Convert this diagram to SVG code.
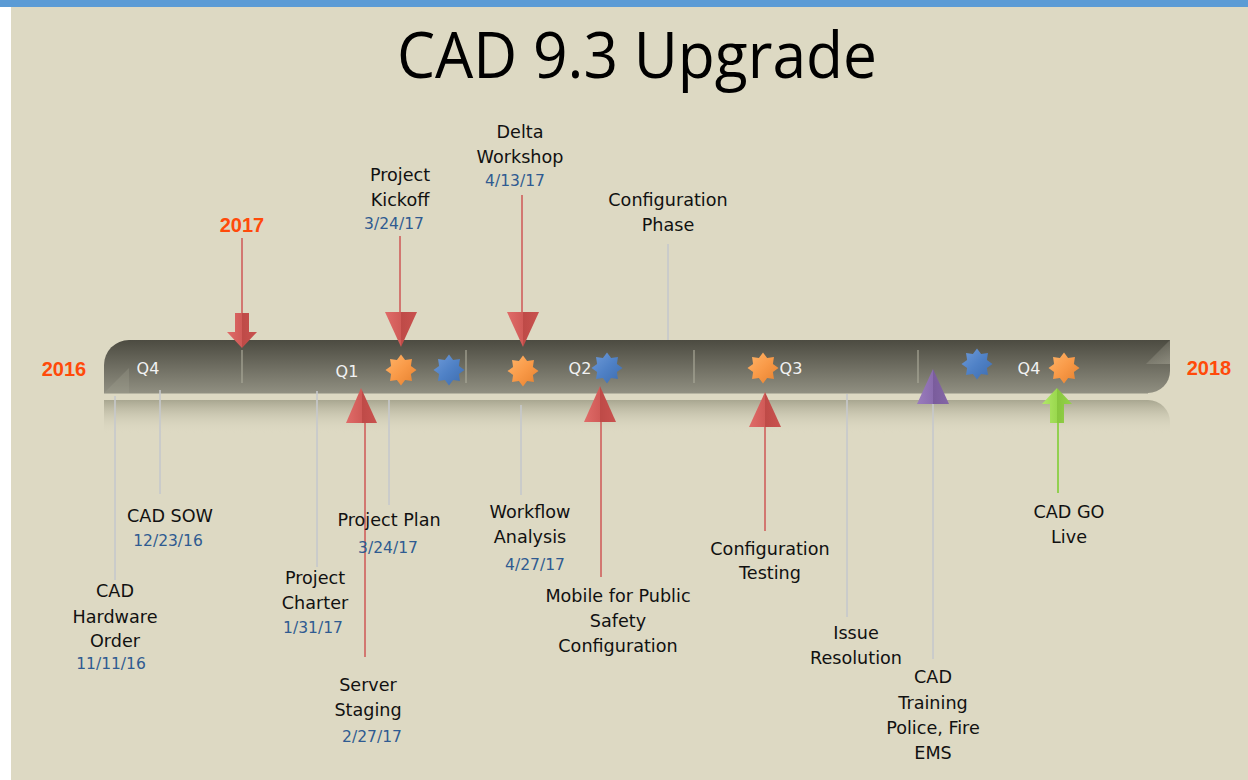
<svg xmlns="http://www.w3.org/2000/svg" width="1248" height="780" viewBox="0 0 1248 780">
<defs>
<style>
.lbl{font-family:"DejaVu Sans","Liberation Sans",sans-serif;font-size:17.6px;fill:#111;text-anchor:middle}
.dt{font-family:"DejaVu Sans","Liberation Sans",sans-serif;font-size:15.5px;fill:#2F5B91;text-anchor:middle}
.yr{font-family:"Liberation Sans",Arial,sans-serif;font-weight:bold;font-size:20px;fill:#FF4A0A;text-anchor:middle}
.q{font-family:"DejaVu Sans","Liberation Sans",sans-serif;font-size:16px;fill:#F2F2F2;text-anchor:middle}
.gl{stroke:#C6C8CC;stroke-width:1.6;fill:none}
.rl{stroke:#D05F5C;stroke-width:1.6;fill:none}
.sep{stroke:#A9A898;stroke-width:1.2}
</style>
<linearGradient id="barG" x1="0" y1="0" x2="0" y2="1">
<stop offset="0" stop-color="#4C4B41"/>
<stop offset="1" stop-color="#908F81"/>
</linearGradient>
<linearGradient id="refG" x1="0" y1="0" x2="0" y2="1">
<stop offset="0" stop-color="#A8A690"/>
<stop offset="1" stop-color="#DDD9C3" stop-opacity="0"/>
</linearGradient>
<linearGradient id="cornG" x1="0" y1="0" x2="1" y2="1">
<stop offset="0" stop-color="#C9C7B6" stop-opacity="0.05"/>
<stop offset="1" stop-color="#C9C7B6" stop-opacity="0.35"/>
</linearGradient>
<linearGradient id="redG" x1="0" y1="0" x2="1" y2="0">
<stop offset="0" stop-color="#E06C69"/>
<stop offset="0.5" stop-color="#D05A57"/>
<stop offset="0.5" stop-color="#BE4A47"/>
<stop offset="1" stop-color="#C9524F"/>
</linearGradient>
<linearGradient id="purG" x1="0" y1="0" x2="1" y2="0">
<stop offset="0" stop-color="#9A7CBC"/>
<stop offset="0.5" stop-color="#8A6CAE"/>
<stop offset="0.5" stop-color="#7A5C9C"/>
<stop offset="1" stop-color="#8466A6"/>
</linearGradient>
<linearGradient id="grnG" x1="0" y1="0" x2="1" y2="0">
<stop offset="0" stop-color="#B2E86A"/>
<stop offset="0.5" stop-color="#9AD84E"/>
<stop offset="0.5" stop-color="#88C63E"/>
<stop offset="1" stop-color="#94D24A"/>
</linearGradient>
<linearGradient id="orG" x1="0" y1="0" x2="1" y2="1">
<stop offset="0" stop-color="#FFB56A"/>
<stop offset="0.5" stop-color="#F99A48"/>
<stop offset="1" stop-color="#E5802E"/>
</linearGradient>
<linearGradient id="blG" x1="0" y1="0" x2="1" y2="1">
<stop offset="0" stop-color="#6F9BD8"/>
<stop offset="0.5" stop-color="#4F81C6"/>
<stop offset="1" stop-color="#3D6CAE"/>
</linearGradient>
<path id="star" d="M0,-15.5 L4.1,-9.9 L10.96,-10.96 L9.9,-4.1 L15.5,0 L9.9,4.1 L10.96,10.96 L4.1,9.9 L0,15.5 L-4.1,9.9 L-10.96,10.96 L-9.9,4.1 L-15.5,0 L-9.9,-4.1 L-10.96,-10.96 L-4.1,-9.9 Z"/>
</defs>

<rect x="0" y="0" width="1248" height="780" fill="#FFFFFF"/>
<rect x="11" y="0" width="1237" height="780" fill="#DDD9C3"/>
<rect x="0" y="0" width="1248" height="7" fill="#5B9BD5"/>

<text x="397" y="78" font-family="'Open Sans','Liberation Sans',sans-serif" font-size="64" fill="#000" textLength="480" lengthAdjust="spacingAndGlyphs">CAD 9.3 Upgrade</text>

<g id="timeline-bar">
<path d="M104,400 H1148 A22,22 0 0 1 1170,422 V434 H104 Z" fill="url(#refG)"/>
<path d="M104,393 V365 A25,25 0 0 1 129,340 H1170 V371 A22,22 0 0 1 1148,393 Z" fill="url(#barG)"/>
<path d="M104,393 L129,368 V393 Z" fill="#A3A293" opacity="0.3"/>
<path d="M1170,340 L1146,364 H1170 Z" fill="url(#cornG)"/>
<line x1="104" y1="393.5" x2="1148" y2="393.5" stroke="#B6B4A2" stroke-width="1"/>
<line class="sep" x1="242" y1="350" x2="242" y2="383"/>
<line class="sep" x1="466" y1="350" x2="466" y2="383"/>
<line class="sep" x1="694" y1="350" x2="694" y2="383"/>
<line class="sep" x1="918" y1="350" x2="918" y2="383"/>
<text class="q" x="148" y="374">Q4</text>
<text class="q" x="347" y="377">Q1</text>
<text class="q" x="580" y="374">Q2</text>
<text class="q" x="791" y="374">Q3</text>
<text class="q" x="1029" y="374">Q4</text>
</g>

<g id="years">
<text class="yr" x="64" y="376">2016</text>
<text class="yr" x="1209" y="375">2018</text>
</g>

<g id="connectors">
<line class="rl" x1="242" y1="238" x2="242" y2="314"/>
<line class="rl" x1="400" y1="236" x2="400" y2="313"/>
<line class="rl" x1="522" y1="195" x2="522" y2="313"/>
<line class="gl" x1="668" y1="244" x2="668" y2="340"/>
<line class="gl" x1="115" y1="396" x2="115" y2="580"/>
<line class="gl" x1="160" y1="390" x2="160" y2="494"/>
<line class="gl" x1="317" y1="391" x2="317" y2="567"/>
<line class="gl" x1="389" y1="400" x2="389" y2="505"/>
<line class="gl" x1="521" y1="405" x2="521" y2="495"/>
<line class="gl" x1="847" y1="394" x2="847" y2="617"/>
<line class="gl" x1="933" y1="386" x2="933" y2="659"/>
<line class="rl" x1="365" y1="422" x2="365" y2="657"/>
<line class="rl" x1="601" y1="421" x2="601" y2="577"/>
<line class="rl" x1="765" y1="426" x2="765" y2="531"/>
<line x1="1058" y1="422" x2="1058" y2="493" stroke="#92D050" stroke-width="2"/>
</g>

<g id="node-2017">
<text class="yr" x="242" y="232">2017</text>
<path d="M235,313 H249 V332 H257 L242,348 L227,332 H235 Z" fill="url(#redG)"/>
</g>

<g id="node-project-kickoff">
<text class="lbl" x="400" y="181">Project</text>
<text class="lbl" x="400" y="206">Kickoff</text>
<text class="dt" x="394" y="229">3/24/17</text>
<path d="M385,312 H417 L401,347 Z" fill="url(#redG)"/>
</g>

<g id="node-delta-workshop">
<text class="lbl" x="520" y="138">Delta</text>
<text class="lbl" x="520" y="163">Workshop</text>
<text class="dt" x="515" y="186">4/13/17</text>
<path d="M507,312 H539 L523,347 Z" fill="url(#redG)"/>
</g>

<g id="node-configuration-phase">
<text class="lbl" x="668" y="206">Configuration</text>
<text class="lbl" x="668" y="231">Phase</text>
</g>

<g id="stars">
<use href="#star" x="401" y="370" fill="url(#orG)"/>
<use href="#star" x="449" y="370" fill="url(#blG)"/>
<use href="#star" x="523" y="371" fill="url(#orG)"/>
<use href="#star" x="607" y="368" fill="url(#blG)"/>
<use href="#star" x="763" y="368" fill="url(#orG)"/>
<use href="#star" x="977" y="364" fill="url(#blG)"/>
<use href="#star" x="1064" y="368" fill="url(#orG)"/>
</g>

<g id="node-cad-hardware-order">
<text class="lbl" x="115" y="597">CAD</text>
<text class="lbl" x="115" y="623">Hardware</text>
<text class="lbl" x="115" y="647">Order</text>
<text class="dt" x="111" y="669">11/11/16</text>
</g>

<g id="node-cad-sow">
<text class="lbl" x="170" y="522">CAD SOW</text>
<text class="dt" x="168" y="546">12/23/16</text>
</g>

<g id="node-project-charter">
<text class="lbl" x="315" y="584">Project</text>
<text class="lbl" x="315" y="609">Charter</text>
<text class="dt" x="313" y="633">1/31/17</text>
</g>

<g id="node-project-plan">
<text class="lbl" x="389" y="526">Project Plan</text>
<text class="dt" x="388" y="553">3/24/17</text>
</g>

<g id="node-server-staging">
<path d="M346,423 H377 L361,388 Z" fill="url(#redG)"/>
<text class="lbl" x="368" y="691">Server</text>
<text class="lbl" x="368" y="716">Staging</text>
<text class="dt" x="372" y="742">2/27/17</text>
</g>

<g id="node-workflow-analysis">
<text class="lbl" x="530" y="518">Workflow</text>
<text class="lbl" x="530" y="543">Analysis</text>
<text class="dt" x="535" y="570">4/27/17</text>
</g>

<g id="node-mobile-public-safety">
<path d="M584,422 H616 L600,386 Z" fill="url(#redG)"/>
<text class="lbl" x="618" y="602">Mobile for Public</text>
<text class="lbl" x="618" y="627">Safety</text>
<text class="lbl" x="618" y="652">Configuration</text>
</g>

<g id="node-configuration-testing">
<path d="M749,427 H781 L765,392 Z" fill="url(#redG)"/>
<text class="lbl" x="770" y="555">Configuration</text>
<text class="lbl" x="770" y="579">Testing</text>
</g>

<g id="node-issue-resolution">
<text class="lbl" x="856" y="639">Issue</text>
<text class="lbl" x="856" y="664">Resolution</text>
</g>

<g id="node-cad-training">
<path d="M917,404 H949 L933,369 Z" fill="url(#purG)"/>
<text class="lbl" x="933" y="683">CAD</text>
<text class="lbl" x="933" y="709">Training</text>
<text class="lbl" x="933" y="734">Police, Fire</text>
<text class="lbl" x="933" y="759">EMS</text>
</g>

<g id="node-cad-go-live">
<path d="M1057,388 L1072,404 H1064 V423 H1050 V404 H1042 Z" fill="url(#grnG)"/>
<text class="lbl" x="1069" y="518">CAD GO</text>
<text class="lbl" x="1069" y="543">Live</text>
</g>
</svg>
